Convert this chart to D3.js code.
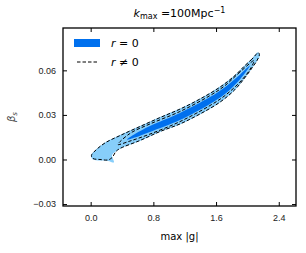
<!DOCTYPE html>
<html>
<head>
<meta charset="utf-8">
<script src="https://cdn.jsdelivr.net/npm/d3@7"></script>
<style>
  body { margin: 0; background: #fff; }
  svg { font-family: "DejaVu Sans", sans-serif; }
</style>
</head>
<body>
<svg id="chart" width="306" height="253"></svg>
<script>
// confidence contours, [max|g|, beta_s]
const r0Outer = [
  [2.134, 0.0722], [2.057, 0.0679], [1.968, 0.0635], [1.840, 0.0568], [1.650, 0.0491],
  [1.394, 0.0410], [1.139, 0.0343], [0.884, 0.0286], [0.629, 0.0225], [0.374, 0.0165],
  [0.182, 0.0114], [0.068, 0.0067], [0.004, 0.0027], [0.029, 0.0], [0.119, -0.0007],
  [0.221, -0.0010], [0.297, -0.0020], [0.286, 0.0003], [0.273, 0.0030], [0.374, 0.0071],
  [0.629, 0.0124], [0.884, 0.0185], [1.139, 0.0235], [1.394, 0.0302], [1.650, 0.0383],
  [1.840, 0.0467], [1.968, 0.0548], [2.057, 0.0612], [2.121, 0.0662], [2.159, 0.0699]
];
const r0Inner = [
  [2.032, 0.0632], [1.904, 0.0571], [1.713, 0.0487], [1.522, 0.0420], [1.139, 0.0313],
  [0.756, 0.0225], [0.565, 0.0171], [0.463, 0.0134], [0.565, 0.0148], [0.756, 0.0185],
  [1.139, 0.0265], [1.522, 0.0373], [1.713, 0.0440], [1.904, 0.0538]
];
const rOuter = [
  [2.140, 0.0719], [2.057, 0.0675], [1.968, 0.0632], [1.840, 0.0565], [1.650, 0.0487],
  [1.394, 0.0407], [1.139, 0.0339], [0.884, 0.0282], [0.629, 0.0222], [0.374, 0.0161],
  [0.182, 0.0111], [0.068, 0.0064], [0.010, 0.0027], [0.029, 0.0007], [0.119, 0.0],
  [0.221, -0.0003], [0.273, 0.0013], [0.323, 0.0054], [0.374, 0.0074], [0.629, 0.0128],
  [0.884, 0.0188], [1.139, 0.0239], [1.394, 0.0306], [1.650, 0.0386], [1.840, 0.0470],
  [1.968, 0.0551], [2.057, 0.0615], [2.121, 0.0665], [2.153, 0.0706]
];
const rInner = [
  [2.083, 0.0665], [1.904, 0.0588], [1.713, 0.0497], [1.522, 0.0430], [1.139, 0.0323],
  [0.756, 0.0239], [0.501, 0.0175], [0.348, 0.0101], [0.501, 0.0124], [0.756, 0.0171],
  [1.139, 0.0255], [1.522, 0.0363], [1.713, 0.0430], [1.904, 0.0521], [2.032, 0.0605]
];
const xTicks = [0, 0.8, 1.6, 2.4];
const yTicks = [-0.03, 0, 0.03, 0.06];

const m = { left: 63, right: 296, top: 28, bottom: 206 };
const svg = d3.select("#chart");

const x = d3.scaleLinear().domain([-0.353, 2.62]).range([m.left, m.right]);
const y = d3.scaleLinear().domain([-0.0313, 0.0885]).range([m.bottom, m.top]);

const line = d3.line()
  .x((d) => x(d[0]))
  .y((d) => y(d[1]))
  .curve(d3.curveCatmullRomClosed.alpha(0.5));

const plot = svg.append("g");
plot.append("path").attr("d", line(r0Outer)).attr("fill", "#87cefa");
plot.append("path").attr("d", line(r0Inner)).attr("fill", "#0070ee");
[rOuter, rInner].forEach((c) => {
  plot.append("path")
    .attr("d", line(c))
    .attr("fill", "none")
    .attr("stroke", "#000")
    .attr("stroke-width", 1)
    .attr("stroke-dasharray", "3.5,2");
});

// axes, ticks pointing inward
const fmtY = d3.format(".2f");
svg.append("g")
  .attr("transform", `translate(0,${m.bottom})`)
  .call(d3.axisBottom(x).tickValues(xTicks).tickFormat(d3.format(".1f"))
    .tickSizeInner(-4).tickSizeOuter(0).tickPadding(9))
  .call((g) => g.select(".domain").remove())
  .call((g) => g.selectAll("text").attr("font-size", 9).attr("fill", "#222"));
svg.append("g")
  .attr("transform", `translate(0,${m.top})`)
  .call(d3.axisTop(x).tickValues(xTicks).tickFormat("").tickSizeInner(-4).tickSizeOuter(0))
  .call((g) => g.select(".domain").remove());
svg.append("g")
  .attr("transform", `translate(${m.left},0)`)
  .call(d3.axisLeft(y).tickValues(yTicks).tickFormat(fmtY)
    .tickSizeInner(-4).tickSizeOuter(0).tickPadding(7))
  .call((g) => g.select(".domain").remove())
  .call((g) => g.selectAll("text").attr("font-size", 9).attr("fill", "#222"));
svg.append("g")
  .attr("transform", `translate(${m.right},0)`)
  .call(d3.axisRight(y).tickValues(yTicks).tickFormat("").tickSizeInner(-4).tickSizeOuter(0))
  .call((g) => g.select(".domain").remove());

svg.append("rect")
  .attr("x", m.left).attr("y", m.top)
  .attr("width", m.right - m.left).attr("height", m.bottom - m.top)
  .attr("fill", "none").attr("stroke", "#000").attr("stroke-width", 1.3);

// title
const title = svg.append("text")
  .attr("x", (m.left + m.right) / 2).attr("y", 17)
  .attr("text-anchor", "middle").attr("font-size", 11);
title.append("tspan").attr("font-style", "italic").text("k");
title.append("tspan").attr("font-size", 8).attr("dy", 2).text("max");
title.append("tspan").attr("dy", -2).text(" =100Mpc");
title.append("tspan").attr("font-size", 8).attr("dy", -4).text("−1");

// axis labels
svg.append("text")
  .attr("x", (m.left + m.right) / 2).attr("y", 240)
  .attr("text-anchor", "middle").attr("font-size", 10)
  .text("max |g|");
const yl = svg.append("text")
  .attr("transform", `translate(15,${(m.top + m.bottom) / 2}) rotate(-90)`)
  .attr("text-anchor", "middle").attr("font-size", 10).attr("fill", "#444");
yl.append("tspan").attr("font-style", "italic").text("β");
yl.append("tspan").attr("font-size", 7).attr("dy", 2).attr("font-style", "italic").text("s");

// legend
const leg = svg.append("g");
leg.append("rect").attr("x", 74).attr("y", 39).attr("width", 26).attr("height", 8)
  .attr("fill", "#0070ee");
leg.append("line").attr("x1", 77).attr("x2", 98).attr("y1", 62).attr("y2", 62)
  .attr("stroke", "#000").attr("stroke-width", 1).attr("stroke-dasharray", "3.5,2");
const l1 = leg.append("text").attr("x", 111).attr("y", 47).attr("font-size", 11);
l1.append("tspan").attr("font-style", "italic").text("r");
l1.append("tspan").text(" = 0");
const l2 = leg.append("text").attr("x", 111).attr("y", 66).attr("font-size", 11);
l2.append("tspan").attr("font-style", "italic").text("r");
l2.append("tspan").text(" ≠ 0");
</script>
</body>
</html>
